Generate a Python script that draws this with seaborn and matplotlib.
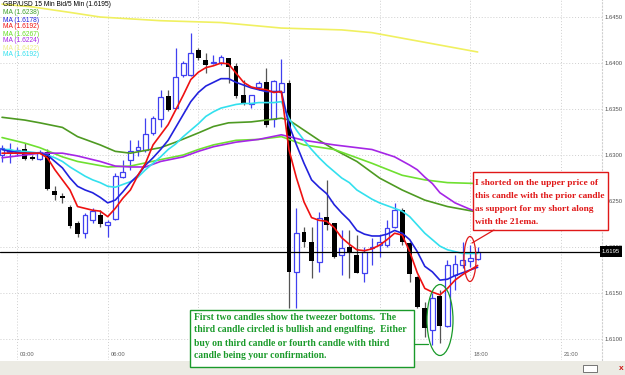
import matplotlib
matplotlib.use("Agg")
import matplotlib.pyplot as plt
import matplotlib.transforms as mtrans
from matplotlib.patches import Rectangle, Ellipse
import numpy as np
import pandas as pd
import seaborn as sns

# GBP/USD 15 min bars (first bar ~02:30)
opens = [1.6300, 1.6303, 1.6302, 1.6307, 1.6298, 1.6296, 1.6303, 1.6261, 1.6255, 1.6244,
         1.6226, 1.6215, 1.6229, 1.6235, 1.6224, 1.6230, 1.6276, 1.6295, 1.6306, 1.6306,
         1.6324, 1.6339, 1.6364, 1.6351, 1.6387, 1.6387, 1.6414, 1.6403, 1.6400, 1.6400,
         1.6406, 1.6397, 1.6365, 1.6356, 1.6374, 1.6379, 1.6339, 1.6369, 1.6378, 1.6173,
         1.6216, 1.6205, 1.6184, 1.6233, 1.6226, 1.6191, 1.6200, 1.6191, 1.6172, 1.6199,
         1.6202, 1.6202, 1.6222, 1.6240, 1.6204, 1.6167, 1.6134, 1.6110, 1.6147, 1.6114,
         1.6170, 1.6180, 1.6185, 1.6187]
highs = [1.6311, 1.6313, 1.6309, 1.6313, 1.6300, 1.6306, 1.6307, 1.6266, 1.6259, 1.6246,
         1.6228, 1.6237, 1.6242, 1.6240, 1.6229, 1.6280, 1.6295, 1.6316, 1.6316, 1.6340,
         1.6342, 1.6371, 1.6371, 1.6416, 1.6402, 1.6433, 1.6416, 1.6411, 1.6409, 1.6409,
         1.6406, 1.6400, 1.6382, 1.6365, 1.6381, 1.6395, 1.6382, 1.6404, 1.6382, 1.6242,
         1.6222, 1.6222, 1.6238, 1.6273, 1.6226, 1.6219, 1.6219, 1.6213, 1.6200, 1.6210,
         1.6213, 1.6229, 1.6248, 1.6242, 1.6205, 1.6169, 1.6140, 1.6150, 1.6153, 1.6186,
         1.6191, 1.6205, 1.6202, 1.6200]
lows = [1.6292, 1.6291, 1.6299, 1.6295, 1.6295, 1.6295, 1.6262, 1.6251, 1.6248, 1.6221,
        1.6211, 1.6210, 1.6226, 1.6222, 1.6211, 1.6229, 1.6275, 1.6284, 1.6299, 1.6303,
        1.6322, 1.6330, 1.6348, 1.6350, 1.6385, 1.6386, 1.6403, 1.6389, 1.6399, 1.6398,
        1.6378, 1.6362, 1.6354, 1.6351, 1.6371, 1.6330, 1.6330, 1.6367, 1.6134, 1.6134,
        1.6200, 1.6166, 1.6173, 1.6219, 1.6188, 1.6170, 1.6166, 1.6172, 1.6162, 1.6180,
        1.6189, 1.6200, 1.6221, 1.6202, 1.6162, 1.6134, 1.6102, 1.6094, 1.6096, 1.6113,
        1.6153, 1.6177, 1.6178, 1.6186]
closes = [1.6308, 1.6306, 1.6306, 1.6296, 1.6296, 1.6303, 1.6263, 1.6257, 1.6253, 1.6223,
          1.6214, 1.6235, 1.6239, 1.6225, 1.6227, 1.6277, 1.6282, 1.6304, 1.6309, 1.6323,
          1.6340, 1.6363, 1.6349, 1.6385, 1.6400, 1.6411, 1.6406, 1.6398, 1.6401, 1.6407,
          1.6396, 1.6364, 1.6357, 1.6365, 1.6378, 1.6333, 1.6381, 1.6378, 1.6173, 1.6215,
          1.6205, 1.6185, 1.6232, 1.6224, 1.6189, 1.6199, 1.6194, 1.6172, 1.6195, 1.6200,
          1.6205, 1.6221, 1.6240, 1.6205, 1.6171, 1.6135, 1.6112, 1.6145, 1.6114, 1.6180,
          1.6182, 1.6186, 1.6188, 1.6195]

# fast averages, one value per bar
ma_red = [1.6302, 1.6302, 1.6302, 1.6302, 1.6302, 1.6302, 1.6297, 1.6284, 1.6273, 1.6262,
          1.6244, 1.6242, 1.6240, 1.6239, 1.6233, 1.6242, 1.6253, 1.6262, 1.6278, 1.6291,
          1.6311, 1.6322, 1.6333, 1.6349, 1.6365, 1.6382, 1.6390, 1.6395, 1.6397, 1.6400,
          1.6399, 1.6389, 1.6379, 1.6374, 1.6372, 1.6371, 1.6368, 1.6369, 1.6306, 1.6275,
          1.6249, 1.6232, 1.6229, 1.6228, 1.6221, 1.6210, 1.6203, 1.6197, 1.6196, 1.6198,
          1.6202, 1.6208, 1.6215, 1.6213, 1.6195, 1.6172, 1.6155, 1.6151, 1.6148, 1.6155,
          1.6164, 1.6170, 1.6175, 1.6180]
ma_blue = [1.6306, 1.6304, 1.6303, 1.6302, 1.6302, 1.6302, 1.6300, 1.6293, 1.6286, 1.6275,
           1.6266, 1.6262, 1.6259, 1.6254, 1.6248, 1.6251, 1.6260, 1.6270, 1.6278, 1.6289,
           1.6297, 1.6306, 1.6316, 1.6330, 1.6344, 1.6358, 1.6368, 1.6375, 1.6379, 1.6383,
           1.6383, 1.6379, 1.6376, 1.6373, 1.6371, 1.6369, 1.6369, 1.6369, 1.6333, 1.6311,
           1.6291, 1.6273, 1.6265, 1.6258, 1.6246, 1.6237, 1.6229, 1.6218, 1.6214, 1.6212,
           1.6212, 1.6214, 1.6218, 1.6215, 1.6208, 1.6195, 1.6179, 1.6173, 1.6164, 1.6165,
           1.6169, 1.6172, 1.6175, 1.6178]
ma_cyan = [1.6306, 1.6306, 1.6304, 1.6304, 1.6303, 1.6302, 1.6300, 1.6297, 1.6293, 1.6287,
           1.6282, 1.6277, 1.6273, 1.6270, 1.6266, 1.6265, 1.6268, 1.6271, 1.6276, 1.6284,
           1.6291, 1.6298, 1.6306, 1.6312, 1.6320, 1.6327, 1.6334, 1.6342, 1.6347, 1.6351,
           1.6353, 1.6355, 1.6356, 1.6356, 1.6357, 1.6357, 1.6357, 1.6358, 1.6340, 1.6327,
           1.6316, 1.6306, 1.6297, 1.6289, 1.6282, 1.6275, 1.6270, 1.6262, 1.6257, 1.6252,
           1.6248, 1.6245, 1.6242, 1.6239, 1.6233, 1.6224, 1.6215, 1.6208, 1.6201, 1.6197,
           1.6195, 1.6193, 1.6193, 1.6193]

# slow averages, read at sampled bars
purple_bars = [0, 3, 5, 8, 10, 13, 15, 17, 19, 21, 24, 26, 28, 31, 34, 37, 40, 44, 49, 52,
               54, 55, 56, 57, 58, 60, 62, 63]
ma_purple = [1.6297, 1.6300, 1.6302, 1.6302, 1.6299, 1.6293, 1.6288, 1.6287, 1.6287, 1.6293,
             1.6298, 1.6304, 1.6309, 1.6314, 1.6317, 1.6322, 1.6316, 1.6311, 1.6306, 1.6298,
             1.6289, 1.6284, 1.6276, 1.6269, 1.6259, 1.6248, 1.6241, 1.6238]
lime_bars = [0, 3, 5, 8, 10, 14, 17, 21, 24, 26, 28, 31, 34, 37, 40, 44, 46, 49, 53, 56, 59, 63]
ma_lime = [1.6319, 1.6313, 1.6308, 1.6298, 1.6293, 1.6287, 1.6288, 1.6295, 1.6300, 1.6306,
           1.6311, 1.6316, 1.6317, 1.6320, 1.6311, 1.6306, 1.6300, 1.6291, 1.6278, 1.6273,
           1.6270, 1.6269]
olive_bars = [0, 3, 5, 8, 10, 13, 15, 17, 21, 23, 26, 28, 30, 33, 36, 37, 38, 40, 42, 44,
              47, 50, 53, 56, 59, 63]
ma_olive = [1.6341, 1.6338, 1.6335, 1.6330, 1.6320, 1.6311, 1.6304, 1.6302, 1.6308, 1.6314,
            1.6324, 1.6331, 1.6335, 1.6336, 1.6339, 1.6340, 1.6338, 1.6327, 1.6316, 1.6306,
            1.6293, 1.6275, 1.6262, 1.6251, 1.6244, 1.6238]
yellow_bars = [0, 4, 9, 13, 17, 21, 25, 29, 33, 37, 41, 45, 49, 53, 57, 61, 63]
ma_yellow = [1.6464, 1.6461, 1.6455, 1.6450, 1.6448, 1.6446, 1.6445, 1.6444, 1.6441, 1.6438,
             1.6437, 1.6436, 1.6433, 1.6427, 1.6421, 1.6415, 1.6412]

time_labels = ['03:00', '06:00', '09:00', '12:00', '15:00', '18:00', '21:00']
time_bars = [2, 14, 26, 38, 50, 62, 74]
# 09:00-15:00 sit under the green note in the screenshot
hidden_times = ['09:00', '12:00', '15:00']
price_ticks = [1.6100, 1.6150, 1.6200, 1.6250, 1.6300, 1.6350, 1.6400, 1.6450]

header = 'GBP/USD 15 Min Bid/5 Min (1.6195)'
legend_labels = ['MA (1.6238)', 'MA (1.6178)', 'MA (1.6192)', 'MA (1.6267)',
                 'MA (1.6224)', 'MA (1.6422)', 'MA (1.6192)']

OLIVE, BLUE, RED, LIME = '#4e9a22', '#2222dd', '#ee1111', '#6fe030'
PURPLE, YELLOW, CYAN = '#a526e6', '#f0f060', '#33e0ee'
legend_colors = ['#3fa02a', BLUE, RED, '#66dd22', PURPLE, '#eeee88', CYAN]
CANDLE_BLUE = '#4040f0'
NOTE_GREEN = '#1a9a2a'
NOTE_RED = '#e01818'

red_note = ['I shorted on the upper price of', 'this candle with the prior candle',
            'as support for my short along', 'with the 21ema.']
green_note = ['First two candles show the tweezer bottoms.  The',
              'third candle circled is bullish and engulfing.  Either',
              'buy on third candle or fourth candle with third',
              'candle being your confirmation.']

sns.set_style('white')
plt.rcParams['font.family'] = ['Liberation Sans', 'DejaVu Sans']

W, H = 625, 375
fig = plt.figure(figsize=(W / 100, H / 100), dpi=100)
fig.patch.set_facecolor('white')


def fx(x):
    return x / W


def fy(y):
    return 1 - y / H


# plot area: 0..602 px wide, 0..360 px tall
ax = fig.add_axes([0, 1 - 360 / H, 602 / W, 360 / H])
ax.set_facecolor('white')

df = pd.DataFrame({'open': opens, 'high': highs, 'low': lows, 'close': closes})
df['bar'] = np.arange(len(df))
up = df[df.close >= df.open]
dn = df[df.close < df.open]

ax.vlines(up.bar, up.low, up.high, color=CANDLE_BLUE, lw=0.9, zorder=3)
ax.bar(up.bar, np.maximum(up.close - up.open, 0.00006), bottom=up.open, width=0.64,
       facecolor='white', edgecolor=CANDLE_BLUE, lw=0.9, zorder=4)
ax.vlines(dn.bar, dn.low, dn.high, color='#555555', lw=0.9, zorder=3)
ax.bar(dn.bar, dn.open - dn.close, bottom=dn.close, width=0.64,
       color='black', lw=0, zorder=4)

lines = [(yellow_bars, ma_yellow, YELLOW), (olive_bars, ma_olive, OLIVE),
         (lime_bars, ma_lime, LIME), (purple_bars, ma_purple, PURPLE),
         (df.bar, ma_cyan, CYAN), (df.bar, ma_blue, BLUE), (df.bar, ma_red, RED)]
for xs, ys, c in lines:
    sns.lineplot(x=list(xs), y=ys, ax=ax, color=c, lw=1.2, estimator=None,
                 sort=False, zorder=5)

ax.axhline(closes[-1], color='black', lw=0.9, zorder=6)

ax.set_xlim(-0.27, 79.47)
ax.set_ylim(1.60772, 1.64685)
ax.set_xticks(time_bars)
ax.set_yticks(price_ticks)
ax.grid(True, color='#cfcfcf', ls=(0, (1, 2)), lw=0.7, zorder=0)
ax.tick_params(axis='x', length=0, labelbottom=False)
ax.yaxis.tick_right()
ax.set_yticklabels([f'{p:.4f}' for p in price_ticks])
ax.tick_params(axis='y', length=0, pad=2, labelsize=4.2, labelcolor='#505050')
for s in ['left', 'top', 'bottom']:
    ax.spines[s].set_visible(False)
ax.spines['right'].set_color('#cfcfcf')
ax.spines['right'].set_linestyle((0, (1, 2)))
ax.set_xlabel('')
ax.set_ylabel('')

tr = mtrans.blended_transform_factory(ax.transData, ax.transAxes)
for b, lab in zip(time_bars, time_labels):
    if lab in hidden_times:
        continue
    ax.text(b + 0.4, 0.014, lab, transform=tr, fontsize=4.2, color='#606060',
            va='center', ha='left')

# header + legend
fig.text(fx(3), fy(5), header, fontsize=4.8, va='center', color='black')
for k, (lab, c) in enumerate(zip(legend_labels, legend_colors)):
    fig.text(fx(3), fy(13 + 7 * k), lab, fontsize=4.8, va='center', color=c)

# last price tag
fig.add_artist(Rectangle((fx(600), fy(257)), fx(22), 11 / H, transform=fig.transFigure,
                         facecolor='black', edgecolor='none', zorder=10))
fig.text(fx(611), fy(251.5), f'{closes[-1]:.4f}', fontsize=4.2, color='white',
         ha='center', va='center', zorder=11)

# bottom scroll strip
fig.add_artist(Rectangle((0, 0), 1, 14 / H, transform=fig.transFigure,
                         facecolor='#ecebe4', edgecolor='none', zorder=1))
fig.add_artist(Rectangle((fx(583), fy(372)), fx(14), 7 / H, transform=fig.transFigure,
                         facecolor='white', edgecolor='#606060', lw=0.6, zorder=2))
fig.text(fx(621), fy(368.5), 'x', fontsize=6, color='#d01010', ha='center',
         va='center', weight='bold')

# red note
fig.add_artist(Rectangle((fx(473), fy(230)), fx(135), 58 / H, transform=fig.transFigure,
                         facecolor='white', edgecolor=NOTE_RED, lw=1.0, zorder=12))
for k, t in enumerate(red_note):
    fig.text(fx(475), fy(183 + 13 * k), t, fontsize=6.75, color=NOTE_RED,
             family='Liberation Serif', weight='bold', va='center', zorder=13)
fig.add_artist(Ellipse((fx(470), fy(259)), fx(12), 45 / H, transform=fig.transFigure,
                       facecolor='none', edgecolor=NOTE_RED, lw=0.9, zorder=12))
fig.add_artist(plt.Line2D([fx(472), fx(494)], [fy(243), fy(230)],
                          transform=fig.transFigure, color=NOTE_RED, lw=0.9, zorder=12))

# green note
fig.add_artist(Rectangle((fx(190), fy(367)), fx(224), 57 / H, transform=fig.transFigure,
                         facecolor='white', edgecolor=NOTE_GREEN, lw=1.0, zorder=12))
for k, t in enumerate(green_note):
    fig.text(fx(194), fy(317 + 13 * k), t, fontsize=6.9, color=NOTE_GREEN,
             family='Liberation Serif', weight='bold', va='center', zorder=13)
fig.add_artist(Ellipse((fx(440), fy(320)), fx(26), 71 / H, transform=fig.transFigure,
                       facecolor='none', edgecolor=NOTE_GREEN, lw=0.9, zorder=12))
fig.add_artist(plt.Line2D([fx(414), fx(428)], [fy(344), fy(344)],
                          transform=fig.transFigure, color=NOTE_GREEN, lw=0.9, zorder=12))

fig.savefig('out.png', dpi=100)
